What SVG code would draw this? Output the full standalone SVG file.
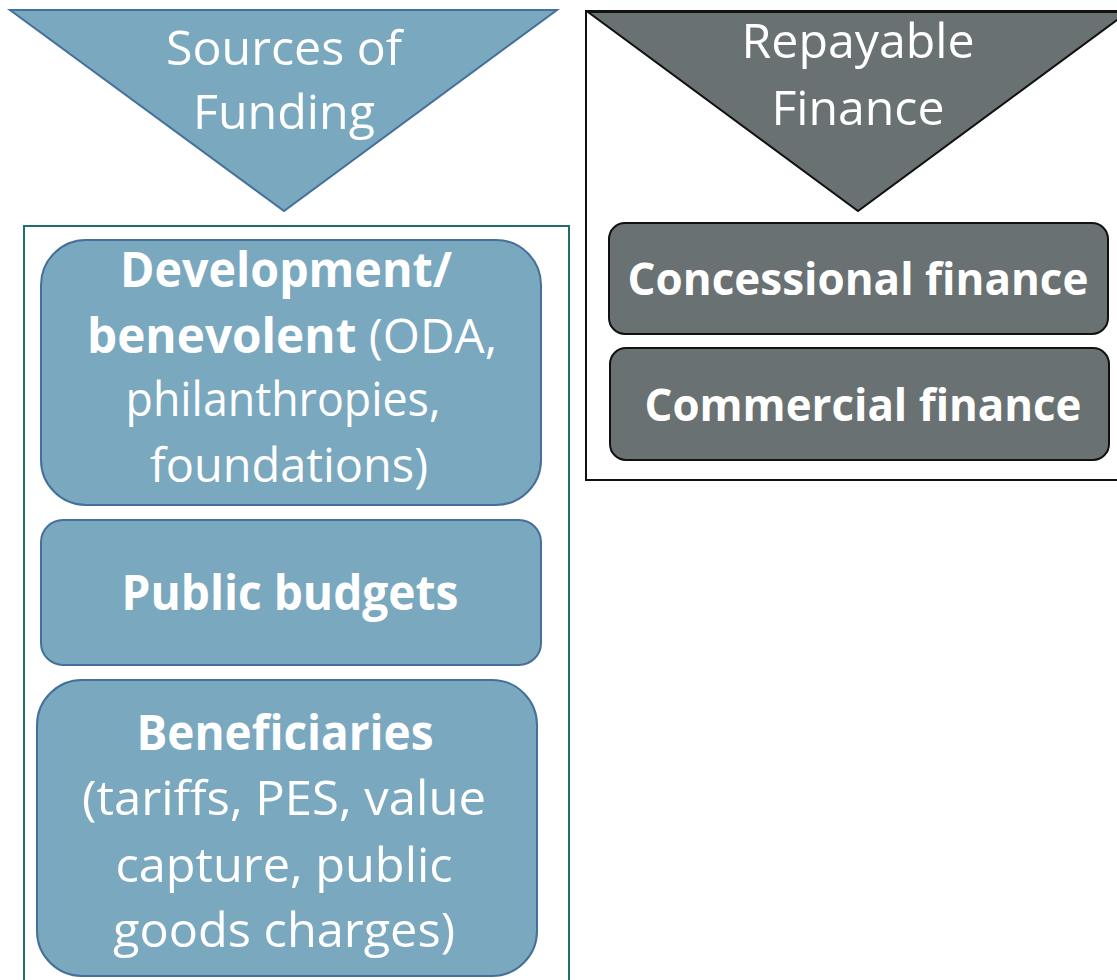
<svg xmlns="http://www.w3.org/2000/svg" width="1117" height="980" viewBox="0 0 1117 980">
  <style>
    .blue { fill: #7aa8bf; stroke: #44709b; stroke-width: 2; }
    .grey { fill: #697172; stroke: #111111; stroke-width: 2; }
    .frame-teal { fill: #ffffff; stroke: #1f6e68; stroke-width: 2; }
    .frame-black { fill: #ffffff; stroke: #111111; stroke-width: 2; }
    text { font-family: "Open Sans", "Noto Sans", sans-serif; fill: #ffffff; text-anchor: middle; font-size: 48px; }
    .b { font-weight: bold; }
    .bs { font-weight: bold; font-size: 45px; }
  </style>
  <rect width="1117" height="980" fill="#ffffff"/>

  <!-- containers -->
  <g id="frame-funding">
    <rect class="frame-teal" x="24" y="226" width="545" height="770"/>
  </g>
  <g id="frame-repayable">
    <rect class="frame-black" x="586" y="11" width="550" height="469"/>
  </g>

  <!-- headers -->
  <g id="sources-of-funding">
    <polygon class="blue" points="10,10 557,10 284,211"/>
    <text x="284" y="65" textLength="236" lengthAdjust="spacingAndGlyphs">Sources of</text>
    <text x="284" y="129" textLength="182" lengthAdjust="spacingAndGlyphs">Funding</text>
  </g>
  <g id="repayable-finance">
    <polygon class="grey" points="588,12 1128,12 858,211"/>
    <text x="858" y="58" textLength="233" lengthAdjust="spacingAndGlyphs">Repayable</text>
    <text x="858" y="125" textLength="173" lengthAdjust="spacingAndGlyphs">Finance</text>
  </g>

  <!-- funding sources -->
  <g id="development">
    <rect class="blue" x="41" y="240" width="500" height="265" rx="45"/>
    <text x="286" y="287" class="b" textLength="332" lengthAdjust="spacingAndGlyphs">Development/</text>
    <text x="292" y="353" textLength="410" lengthAdjust="spacingAndGlyphs"><tspan class="b">benevolent</tspan> (ODA,</text>
    <text x="283" y="416" textLength="315" lengthAdjust="spacingAndGlyphs">philanthropies,</text>
    <text x="289" y="482" textLength="278" lengthAdjust="spacingAndGlyphs">foundations)</text>
  </g>
  <g id="public-budgets">
    <rect class="blue" x="41" y="520" width="500" height="145" rx="22"/>
    <text x="290" y="610" class="b" textLength="337" lengthAdjust="spacingAndGlyphs">Public budgets</text>
  </g>
  <g id="beneficiaries">
    <rect class="blue" x="37" y="680" width="500" height="296" rx="45"/>
    <text x="285" y="750" class="b" textLength="297" lengthAdjust="spacingAndGlyphs">Beneficiaries</text>
    <text x="284" y="815" textLength="404" lengthAdjust="spacingAndGlyphs">(tariffs, PES, value</text>
    <text x="284" y="882" textLength="337" lengthAdjust="spacingAndGlyphs">capture, public</text>
    <text x="284" y="947" textLength="342" lengthAdjust="spacingAndGlyphs">goods charges)</text>
  </g>

  <!-- repayable finance -->
  <g id="concessional">
    <rect class="grey" x="609" y="223" width="499" height="111" rx="16"/>
    <text x="858" y="295" class="bs" textLength="461" lengthAdjust="spacingAndGlyphs">Concessional finance</text>
  </g>
  <g id="commercial">
    <rect class="grey" x="610" y="348" width="499" height="112" rx="16"/>
    <text x="863" y="421" class="bs" textLength="437" lengthAdjust="spacingAndGlyphs">Commercial finance</text>
  </g>

  <g id="connectors"/>
</svg>
